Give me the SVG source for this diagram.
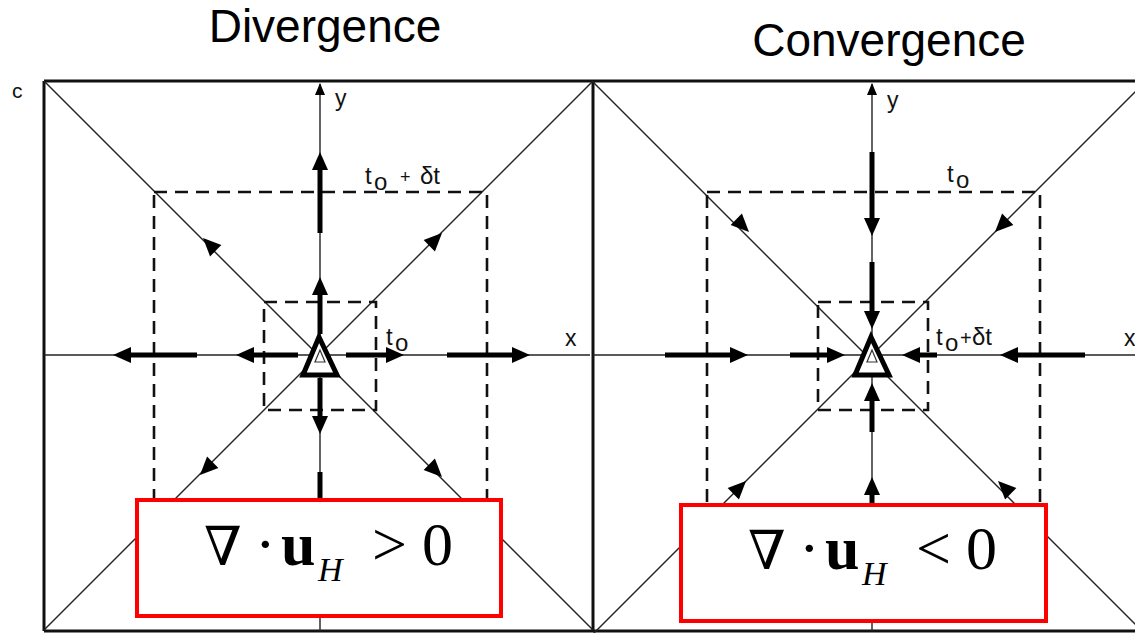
<svg xmlns="http://www.w3.org/2000/svg" xmlns:xlink="http://www.w3.org/1999/xlink" width="1135" height="633" viewBox="0 0 1135 633">
<style>
.frame{fill:none;stroke:#111;stroke-width:3}
.thin{stroke:#222;stroke-width:1.4;fill:none}
.dash{stroke:#111;stroke-width:2.6;fill:none;stroke-dasharray:13 8}
.shaft{stroke:#000;stroke-width:5;fill:none}
.lbl{font-family:"Liberation Sans",Arial,sans-serif;fill:#111}
.title{font-family:"Liberation Sans",Arial,sans-serif;font-size:46px;fill:#000}
.box{fill:#fff;stroke:#ff0000;stroke-width:4}
.fml{font-family:"Liberation Serif","Times New Roman",serif;fill:#000}
.nab{font-family:"DejaVu Serif",serif;fill:#000}
.tri{fill:#fff;stroke:#000;stroke-width:5;stroke-linejoin:miter}
</style>
<defs>
<path id="ah" d="M0,0 L-18,-8 L-18,8 Z" fill="#000"/>
<path id="sah" d="M0,0 L-12,-5 L-12,5 Z" fill="#000"/>
</defs>

<g id="titles">
<text class="title" x="325" y="42" text-anchor="middle">Divergence</text>
<text class="title" x="889" y="56" text-anchor="middle">Convergence</text>
</g>

<g id="frame">
<line class="frame" x1="44" y1="81" x2="1135" y2="81"/>
<line class="frame" x1="44" y1="81" x2="44" y2="631"/>
<line class="frame" x1="593" y1="81" x2="593" y2="631"/>
<line class="frame" x1="44" y1="631" x2="1135" y2="631"/>
<text class="lbl" x="12" y="98" font-size="21">c</text>
</g>

<g id="connectors">
<line class="thin" x1="44" y1="81" x2="593" y2="630"/>
<line class="thin" x1="593" y1="81" x2="44" y2="630"/>
<line class="thin" x1="320" y1="84" x2="320" y2="631"/>
<line class="thin" x1="44" y1="355" x2="590" y2="355"/>
<use xlink:href="#sah" transform="translate(320,83) rotate(-90)"/>
<line class="thin" x1="593" y1="82" x2="1151" y2="640"/>
<line class="thin" x1="593" y1="634" x2="1151" y2="76"/>
<line class="thin" x1="872" y1="84" x2="872" y2="631"/>
<line class="thin" x1="593" y1="355" x2="1135" y2="355"/>
<use xlink:href="#sah" transform="translate(872,83) rotate(-90)"/>

<rect class="dash" x="154" y="192" width="333" height="326"/>
<rect class="dash" x="264" y="302" width="112" height="108"/>
<rect class="dash" x="707" y="192" width="333" height="326"/>
<rect class="dash" x="818" y="302" width="110" height="108"/>

<line class="shaft" x1="320" y1="233" x2="320" y2="166"/>
<use xlink:href="#ah" transform="translate(320,152) rotate(-90)"/>
<line class="shaft" x1="320" y1="334" x2="320" y2="290"/>
<use xlink:href="#ah" transform="translate(320,277) rotate(-90)"/>
<line class="shaft" x1="197" y1="355" x2="127" y2="355"/>
<use xlink:href="#ah" transform="translate(113,355) rotate(180)"/>
<line class="shaft" x1="298" y1="355" x2="250" y2="355"/>
<use xlink:href="#ah" transform="translate(236,355) rotate(180)"/>
<line class="shaft" x1="346" y1="355" x2="390" y2="355"/>
<use xlink:href="#ah" transform="translate(404,355)"/>
<line class="shaft" x1="447" y1="355" x2="516" y2="355"/>
<use xlink:href="#ah" transform="translate(530,355)"/>
<line class="shaft" x1="320" y1="378" x2="320" y2="420"/>
<use xlink:href="#ah" transform="translate(320,434) rotate(90)"/>
<line class="shaft" x1="320" y1="472" x2="320" y2="505"/>
<use xlink:href="#ah" transform="translate(203,238) rotate(-135)"/>
<use xlink:href="#ah" transform="translate(442,233) rotate(-45)"/>
<use xlink:href="#ah" transform="translate(200,475) rotate(135)"/>
<use xlink:href="#ah" transform="translate(442,477) rotate(45)"/>

<line class="shaft" x1="872" y1="152" x2="872" y2="222"/>
<use xlink:href="#ah" transform="translate(872,236) rotate(90)"/>
<line class="shaft" x1="872" y1="262" x2="872" y2="315"/>
<use xlink:href="#ah" transform="translate(872,329) rotate(90)"/>
<line class="shaft" x1="665" y1="355" x2="734" y2="355"/>
<use xlink:href="#ah" transform="translate(748,355)"/>
<line class="shaft" x1="790" y1="355" x2="831" y2="355"/>
<use xlink:href="#ah" transform="translate(845,355)"/>
<line class="shaft" x1="937" y1="355" x2="916" y2="355"/>
<use xlink:href="#ah" transform="translate(902,355) rotate(180)"/>
<line class="shaft" x1="1085" y1="355" x2="1014" y2="355"/>
<use xlink:href="#ah" transform="translate(1000,355) rotate(180)"/>
<line class="shaft" x1="872" y1="432" x2="872" y2="396"/>
<use xlink:href="#ah" transform="translate(872,383) rotate(-90)"/>
<line class="shaft" x1="872" y1="505" x2="872" y2="490"/>
<use xlink:href="#ah" transform="translate(872,477) rotate(-90)"/>
<use xlink:href="#ah" transform="translate(749,232) rotate(45)"/>
<use xlink:href="#ah" transform="translate(995,232) rotate(135)"/>
<use xlink:href="#ah" transform="translate(746,481) rotate(-45)"/>
<use xlink:href="#ah" transform="translate(998,481) rotate(-135)"/>
</g>

<g id="origin-left">
<polygon class="tri" points="319,337 303,375 337,375"/>
<polygon points="320,350 315,362 325,362" fill="none" stroke="#333" stroke-width="1.2"/>
</g>
<g id="origin-right">
<polygon class="tri" points="871,337 855,375 889,375"/>
<polygon points="872,350 867,362 877,362" fill="none" stroke="#333" stroke-width="1.2"/>
</g>

<g id="labels">
<text class="lbl" x="335" y="106" font-size="23">y</text>
<text class="lbl" x="887" y="108" font-size="23">y</text>
<text class="lbl" x="565" y="346" font-size="23">x</text>
<text class="lbl" x="1124" y="346" font-size="23">x</text>
<text class="lbl" x="365" y="184" font-size="24">t</text>
<text class="lbl" x="374" y="190" font-size="24">o</text>
<text class="lbl" x="400" y="183" font-size="18">+</text>
<text class="lbl" x="420" y="184" font-size="24">δt</text>
<text class="lbl" x="386" y="345" font-size="24">t</text>
<text class="lbl" x="395" y="351" font-size="24">o</text>
<text class="lbl" x="947" y="182" font-size="24">t</text>
<text class="lbl" x="956" y="188" font-size="24">o</text>
<text class="lbl" x="936" y="345" font-size="24">t</text>
<text class="lbl" x="945" y="351" font-size="24">o</text>
<text class="lbl" x="960" y="345" font-size="20">+</text>
<text class="lbl" x="972" y="345" font-size="24">δt</text>
</g>

<g id="formula-left">
<rect class="box" x="137" y="500" width="364" height="116"/>
<text class="nab" font-size="54" x="204" y="565">∇</text>
<text class="fml" font-size="62" x="255" y="565">·</text>
<text class="fml" font-size="62" x="281" y="565" font-weight="bold">u</text>
<text class="fml" font-size="34" x="318" y="581" font-style="italic">H</text>
<text class="fml" font-size="62" x="372" y="565">&gt;</text>
<text class="fml" font-size="62" x="422" y="565">0</text>
</g>
<g id="formula-right">
<rect class="box" x="681" y="505" width="365" height="116"/>
<text class="nab" font-size="54" x="748" y="569">∇</text>
<text class="fml" font-size="62" x="799" y="569">·</text>
<text class="fml" font-size="62" x="825" y="569" font-weight="bold">u</text>
<text class="fml" font-size="34" x="862" y="585" font-style="italic">H</text>
<text class="fml" font-size="62" x="916" y="569">&lt;</text>
<text class="fml" font-size="62" x="966" y="569">0</text>
</g>
</svg>
